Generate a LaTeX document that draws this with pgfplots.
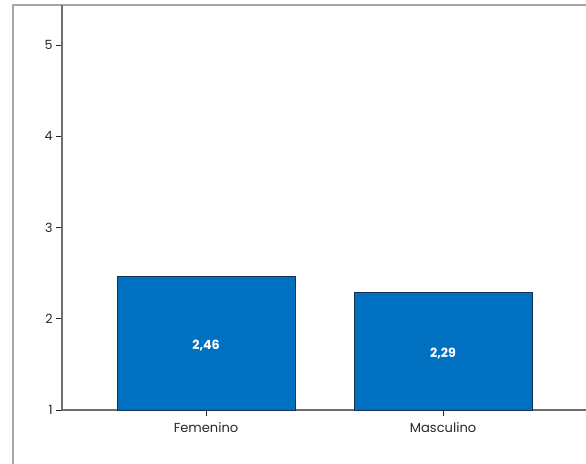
\documentclass[border=0pt]{standalone}
\usepackage{pgfplots}
\pgfplotsset{compat=1.18}
\usepackage{fontspec}
\setmainfont{Poppins}
\definecolor{barblue}{RGB}{0,112,192}
\definecolor{baredge}{RGB}{20,50,80}
\definecolor{axgray}{RGB}{110,110,110}
\definecolor{txt}{RGB}{40,40,40}
\begin{document}
\begin{tikzpicture}
\useasboundingbox (-46.5pt,-40.5pt) rectangle (393pt,307.5pt);
\draw[black!35, line width=1.5pt] (-36.75pt,-40.5pt) -- (-36.75pt,303.75pt) -- (393pt,303.75pt);
\begin{axis}[
  scale only axis, width=393pt, height=303.75pt,
  xmin=-0.6076, xmax=1.603, ymin=1, ymax=5.438,
  axis x line*=bottom, axis y line*=left,
  axis line style={draw=axgray, -, line width=0.8pt},
  xtick={0,1}, xticklabels={Femenino,Masculino},
  ytick={1,2,3,4,5},
  /pgf/number format/assume math mode=true,
  tick align=outside, major tick length=4.5pt,
  tick style={draw=txt, line width=0.6pt},
  tick label style={text=txt},
  xticklabel style={font=\fontsize{9.8}{11}\selectfont, yshift=-1.5pt},
  yticklabel style={font=\fontsize{9.5}{11}\selectfont, xshift=1pt},
  ybar, bar width=133.5pt, bar shift=0pt,
  clip=false,
]
\addplot[fill=barblue, draw=baredge, line width=0.6pt] coordinates {(0,2.46) (1,2.29)};
\node[text=white, yshift=-1.5pt, font=\bfseries\fontsize{9.5}{11}\selectfont] at (axis cs:0,1.73) {2,46};
\node[text=white, yshift=-1.5pt, font=\bfseries\fontsize{9.5}{11}\selectfont] at (axis cs:1,1.645) {2,29};
\end{axis}
\end{tikzpicture}
\end{document}
